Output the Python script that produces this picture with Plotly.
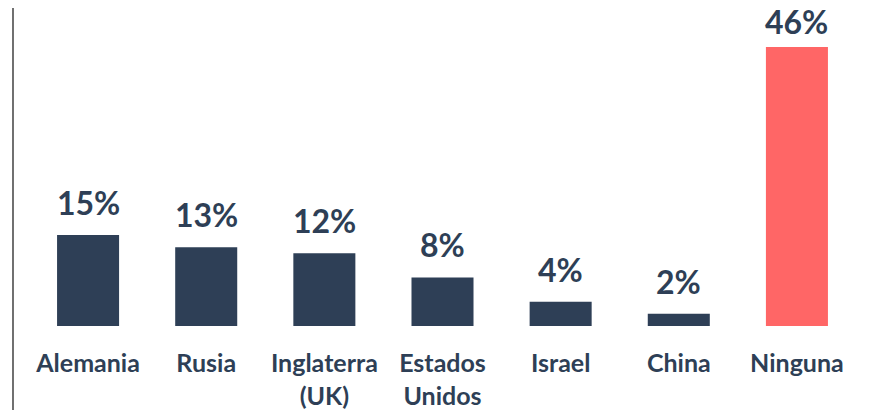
import plotly.graph_objects as go

categories = ["Alemania", "Rusia", "Inglaterra<br>(UK)", "Estados<br>Unidos", "Israel", "China", "Ninguna"]
values = [15, 13, 12, 8, 4, 2, 46]
labels = ["15%", "13%", "12%", "8%", "4%", "2%", "46%"]

NAVY = "#2E3F56"
SALMON = "#FF6666"
colors = [SALMON if c == "Ninguna" else NAVY for c in categories]

W, H = 861, 402
ML, MR, MT, MB = 21, 13, 0, 84

fig = go.Figure(
    go.Bar(
        x=categories,
        y=values,
        marker=dict(color=colors, line=dict(width=0)),
        hoverinfo="skip",
    )
)

vmax = max(values)
for c, v, t in zip(categories, values, labels):
    fig.add_annotation(
        x=c, y=v, text=f"<b>{t}</b>", showarrow=False,
        yanchor="bottom", yshift=4 if v == vmax else 11,
        font=dict(family="Lato", size=32, color=NAVY),
    )

pw = W - ML - MR
ph = H - MT - MB
fig.add_shape(
    type="line", xref="paper", yref="paper",
    x0=-16 / pw, x1=-16 / pw, y0=-MB / ph, y1=1,
    line=dict(color="#111111", width=1.2),
)

fig.update_layout(
    width=W, height=H,
    margin=dict(l=ML, r=MR, t=MT, b=MB, autoexpand=False),
    paper_bgcolor="white", plot_bgcolor="white",
    bargap=0.475,
    showlegend=False,
    font=dict(family="Lato", color=NAVY),
    xaxis=dict(
        showgrid=False, zeroline=False, showline=False,
        tickfont=dict(family="Lato", size=25, color=NAVY, weight="bold"),
        ticks="", ticklabelstandoff=20, automargin=False,
    ),
    yaxis=dict(
        range=[0, 52.43], visible=False, showgrid=False, zeroline=False,
    ),
)

fig.write_html("out.html")
